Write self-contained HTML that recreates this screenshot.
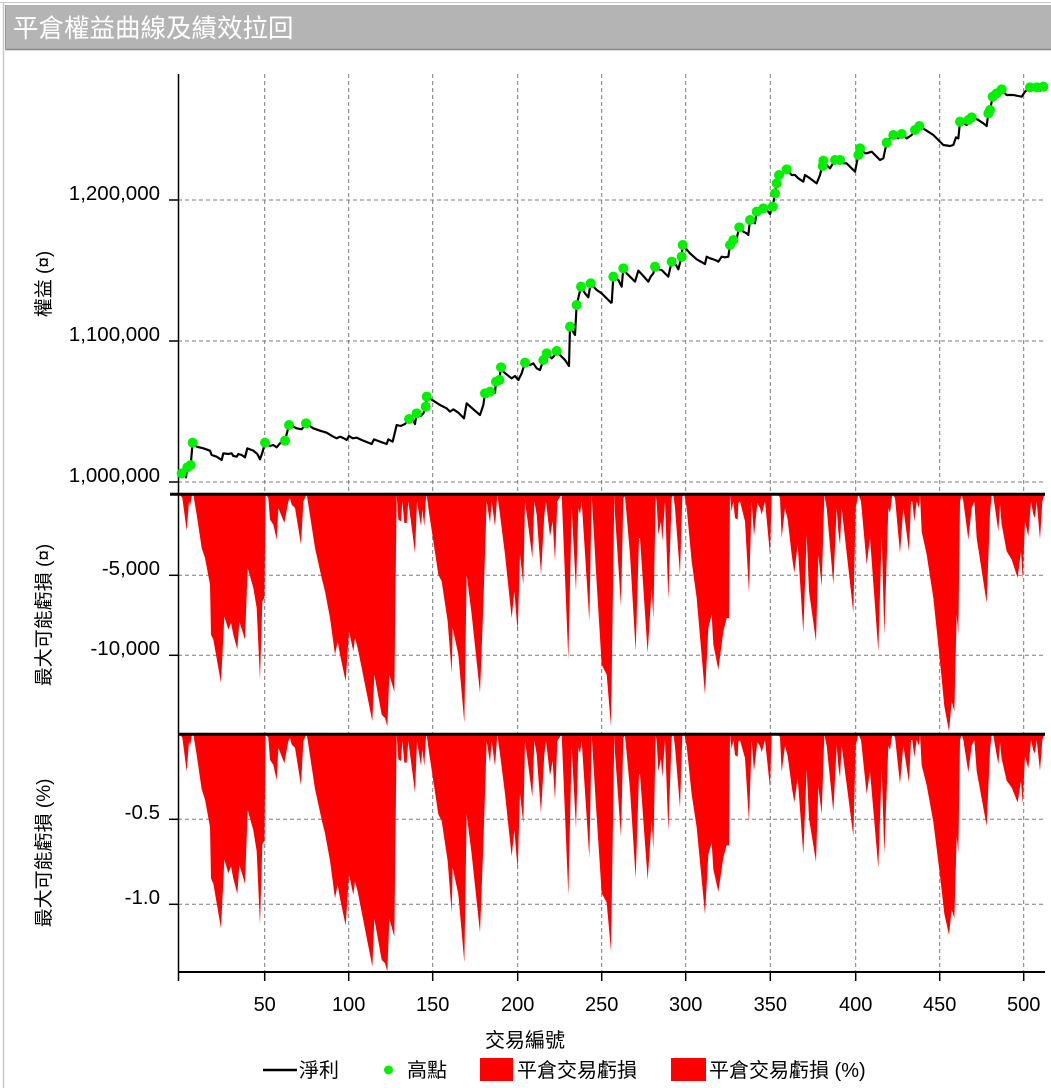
<!DOCTYPE html>
<html>
<head>
<meta charset="utf-8">
<style>
html,body{margin:0;padding:0;background:#fff;}
svg{display:block;}
text{font-family:"Liberation Sans","Noto Sans CJK TC",sans-serif;fill:#000;}
</style>
</head>
<body>
<svg width="1051" height="1088" viewBox="0 0 1051 1088" xmlns="http://www.w3.org/2000/svg">
<rect x="0" y="0" width="1051" height="1088" fill="#fff"/>
<!-- outer frame -->
<line x1="0" y1="2.5" x2="1051" y2="2.5" stroke="#c8c8c8" stroke-width="1"/>
<line x1="3.5" y1="2" x2="3.5" y2="1088" stroke="#c8c8c8" stroke-width="1.5"/>
<!-- title bar -->
<rect x="5" y="5" width="1046" height="44" fill="#b4b4b4"/>
<line x1="5" y1="49.5" x2="1051" y2="49.5" stroke="#8a8a8a" stroke-width="1.5"/>
<line x1="5.5" y1="5" x2="5.5" y2="50" stroke="#999" stroke-width="1"/>
<text x="13" y="37" style="font-size:25.5px;fill:#fff;">平倉權益曲線及績效拉回</text>

<!-- grid -->
<g stroke="#7a7a7a" stroke-width="1" stroke-dasharray="4,3" fill="none">
  <line x1="178" y1="200" x2="1045" y2="200"/>
  <line x1="178" y1="341" x2="1045" y2="341"/>
  <line x1="178" y1="482" x2="1045" y2="482"/>
  <line x1="178" y1="575.3" x2="1045" y2="575.3"/>
  <line x1="178" y1="655.3" x2="1045" y2="655.3"/>
  <line x1="178" y1="819.3" x2="1045" y2="819.3"/>
  <line x1="178" y1="904.3" x2="1045" y2="904.3"/>
  <line x1="264.7" y1="74" x2="264.7" y2="972"/>
  <line x1="348.7" y1="74" x2="348.7" y2="972"/>
  <line x1="432.7" y1="74" x2="432.7" y2="972"/>
  <line x1="517.7" y1="74" x2="517.7" y2="972"/>
  <line x1="601.7" y1="74" x2="601.7" y2="972"/>
  <line x1="685.7" y1="74" x2="685.7" y2="972"/>
  <line x1="770.3" y1="74" x2="770.3" y2="972"/>
  <line x1="855.7" y1="74" x2="855.7" y2="972"/>
  <line x1="939.7" y1="74" x2="939.7" y2="972"/>
  <line x1="1023.7" y1="74" x2="1023.7" y2="972"/>
</g>

<!-- Panel 2 drawdown (value) -->
<g fill="#ff0000" stroke="none" transform="translate(175,488) scale(0.333333)">
<polygon points="15,20 22,30 35,128 42,40 45,55 50,25 55,20 65,80 80,180 90,210 105,290 108,440 115,455 138,585 148,385 160,425 168,405 175,440 187,485 193,400 210,455 218,240 235,300 245,360 255,575 262,340 268,330 272,20"/>
<polygon points="272,20 280,30 285,95 295,110 305,155 310,60 328,105 340,40 345,30 350,50 360,60 378,170 385,40 392,25 395,20"/>
<polygon points="395,20 400,50 420,180 440,270 450,310 465,390 480,500 488,460 495,500 512,580 522,430 535,490 540,450 548,480 592,700 598,560 620,680 630,690 637,715 643,560 658,612 665,20"/>
<polygon points="665,20 670,95 678,100 682,40 688,105 695,105 700,40 720,195 726,40 738,115 742,65 748,115 752,40 755,20"/>
<polygon points="755,20 760,60 790,260 800,280 818,400 830,555 833,420 850,500 868,705 875,260 890,380 915,615 925,350 935,40 945,105 950,40 960,115 967,20"/>
<polygon points="967,20 975,80 990,200 1010,390 1018,310 1028,430 1035,200 1045,290 1050,40 1058,100 1072,210 1078,40 1085,80 1098,260 1108,80 1113,40 1125,145 1133,100 1140,220 1147,40 1160,20"/>
<polygon points="1160,20 1180,515 1190,60 1203,310 1210,60 1215,80 1220,40 1243,400 1250,20"/>
</g>
<g fill="#ff0000" stroke="none" transform="translate(605,488) scale(0.333333)">
<polygon points="-40,20 -28,235 -10,530 5,560 18,715 28,20"/>
<polygon points="28,20 30,80 48,355 55,30 60,25 75,200 92,490 102,150 105,150 128,495 140,300 145,395 152,25 155,40 160,140 168,100 172,160 180,40 190,335 200,30 205,20 210,60 225,260 232,25 238,20"/>
<polygon points="238,20 245,60 260,220 275,330 300,620 310,420 320,380 325,470 340,545 355,430 365,390 372,390 375,20"/>
<polygon points="375,20 380,70 385,40 390,90 398,95 400,45 405,40 420,100 432,315 440,40 447,145 457,45 465,60 470,80 480,40 495,200 500,20"/>
<polygon points="520,20 525,30 530,150 540,60 548,95 560,200 568,255 578,170 595,435 605,140 612,310 633,460 640,200 650,295 658,20"/>
<polygon points="658,20 665,60 685,290 695,60 700,130 705,170 710,60 720,150 745,375 752,60 760,20"/>
<polygon points="760,20 768,40 785,230 795,150 820,490 830,140 838,440 850,60 855,75 862,20"/>
<polygon points="862,20 870,30 885,195 895,60 912,190 918,40 922,40 928,100 935,40 942,60 945,20"/>
<polygon points="945,20 950,130 965,200 985,330 1005,520 1018,655 1032,730 1040,640 1048,670 1055,380 1060,440 1065,40 1070,20"/>
<polygon points="1070,20 1075,40 1090,155 1100,60 1108,40 1115,150 1145,345 1155,75 1160,20"/>
<polygon points="1160,20 1165,25 1180,130 1185,50 1190,110 1205,190 1220,215 1238,270 1248,190 1253,275 1260,100 1270,145 1278,40 1285,80 1290,90 1295,40 1305,155 1312,40 1318,20"/>
</g>

<!-- Panel 3 drawdown (%) -->
<g fill="#ff0000" stroke="none" transform="translate(175,725) scale(0.333333)">
<polygon transform="matrix(1,0,0,1.03,0,7.4)" points="15,20 22,30 35,128 42,40 45,55 50,25 55,20 65,80 80,180 90,210 105,290 108,440 115,455 138,585 148,385 160,425 168,405 175,440 187,485 193,400 210,455 218,240 235,300 245,360 255,575 262,340 268,330 272,20"/>
<polygon transform="matrix(1,0,0,1.02,0,7.6)" points="272,20 280,30 285,95 295,110 305,155 310,60 328,105 340,40 345,30 350,50 360,60 378,170 385,40 392,25 395,20"/>
<polygon transform="matrix(1,0,0,1.025,0,7.5)" points="395,20 400,50 420,180 440,270 450,310 465,390 480,500 488,460 495,500 512,580 522,430 535,490 540,450 548,480 592,700 598,560 620,680 630,690 637,715 643,560 658,612 665,20"/>
<polygon transform="matrix(1,0,0,1.0,0,8)" points="665,20 670,95 678,100 682,40 688,105 695,105 700,40 720,195 726,40 738,115 742,65 748,115 752,40 755,20"/>
<polygon transform="matrix(1,0,0,1.0,0,8)" points="755,20 760,60 790,260 800,280 818,400 830,555 833,420 850,500 868,705 875,260 890,380 915,615 925,350 935,40 945,105 950,40 960,115 967,20"/>
<polygon transform="matrix(1,0,0,0.99,0,8.2)" points="967,20 975,80 990,200 1010,390 1018,310 1028,430 1035,200 1045,290 1050,40 1058,100 1072,210 1078,40 1085,80 1098,260 1108,80 1113,40 1125,145 1133,100 1140,220 1147,40 1160,20"/>
<polygon transform="matrix(1,0,0,0.975,0,8.5)" points="1160,20 1180,515 1190,60 1203,310 1210,60 1215,80 1220,40 1243,400 1250,20"/>
</g>
<g fill="#ff0000" stroke="none" transform="translate(605,725) scale(0.333333)">
<polygon transform="matrix(1,0,0,0.934,0,9.32)" points="-40,20 -28,235 -10,530 5,560 18,715 28,20"/>
<polygon transform="matrix(1,0,0,0.92,0,9.6)" points="28,20 30,80 48,355 55,30 60,25 75,200 92,490 102,150 105,150 128,495 140,300 145,395 152,25 155,40 160,140 168,100 172,160 180,40 190,335 200,30 205,20 210,60 225,260 232,25 238,20"/>
<polygon transform="matrix(1,0,0,0.90,0,10)" points="238,20 245,60 260,220 275,330 300,620 310,420 320,380 325,470 340,545 355,430 365,390 372,390 375,20"/>
<polygon transform="matrix(1,0,0,0.89,0,10.2)" points="375,20 380,70 385,40 390,90 398,95 400,45 405,40 420,100 432,315 440,40 447,145 457,45 465,60 470,80 480,40 495,200 500,20"/>
<polygon transform="matrix(1,0,0,0.87,0,10.6)" points="520,20 525,30 530,150 540,60 548,95 560,200 568,255 578,170 595,435 605,140 612,310 633,460 640,200 650,295 658,20"/>
<polygon transform="matrix(1,0,0,0.86,0,10.8)" points="658,20 665,60 685,290 695,60 700,130 705,170 710,60 720,150 745,375 752,60 760,20"/>
<polygon transform="matrix(1,0,0,0.855,0,10.9)" points="760,20 768,40 785,230 795,150 820,490 830,140 838,440 850,60 855,75 862,20"/>
<polygon transform="matrix(1,0,0,0.85,0,11)" points="862,20 870,30 885,195 895,60 912,190 918,40 922,40 928,100 935,40 942,60 945,20"/>
<polygon transform="matrix(1,0,0,0.848,0,11.04)" points="945,20 950,130 965,200 985,330 1005,520 1018,655 1032,730 1040,640 1048,670 1055,380 1060,440 1065,40 1070,20"/>
<polygon transform="matrix(1,0,0,0.846,0,11.08)" points="1070,20 1075,40 1090,155 1100,60 1108,40 1115,150 1145,345 1155,75 1160,20"/>
<polygon transform="matrix(1,0,0,0.82,0,11.6)" points="1160,20 1165,25 1180,130 1185,50 1190,110 1205,190 1220,215 1238,270 1248,190 1253,275 1260,100 1270,145 1278,40 1285,80 1290,90 1295,40 1305,155 1312,40 1318,20"/>
</g>

<!-- axes & separators -->
<g stroke="#000" fill="none">
  <line x1="178.5" y1="74" x2="178.5" y2="981" stroke-width="1.5"/>
  <line x1="170" y1="494.3" x2="1045" y2="494.3" stroke-width="3"/>
  <line x1="178" y1="734.3" x2="1045" y2="734.3" stroke-width="3"/>
  <line x1="178" y1="972" x2="1045" y2="972" stroke-width="2"/>
  <line x1="169" y1="200" x2="178" y2="200" stroke-width="1.5"/>
  <line x1="169" y1="341" x2="178" y2="341" stroke-width="1.5"/>
  <line x1="169" y1="482" x2="178" y2="482" stroke-width="1.5"/>
  <line x1="169" y1="575.3" x2="178" y2="575.3" stroke-width="1.5"/>
  <line x1="169" y1="655.3" x2="178" y2="655.3" stroke-width="1.5"/>
  <line x1="169" y1="819.3" x2="178" y2="819.3" stroke-width="1.5"/>
  <line x1="169" y1="904.3" x2="178" y2="904.3" stroke-width="1.5"/>
  <line x1="264.7" y1="972" x2="264.7" y2="981" stroke-width="1.5"/>
  <line x1="348.7" y1="972" x2="348.7" y2="981" stroke-width="1.5"/>
  <line x1="432.7" y1="972" x2="432.7" y2="981" stroke-width="1.5"/>
  <line x1="517.7" y1="972" x2="517.7" y2="981" stroke-width="1.5"/>
  <line x1="601.7" y1="972" x2="601.7" y2="981" stroke-width="1.5"/>
  <line x1="685.7" y1="972" x2="685.7" y2="981" stroke-width="1.5"/>
  <line x1="770.3" y1="972" x2="770.3" y2="981" stroke-width="1.5"/>
  <line x1="855.7" y1="972" x2="855.7" y2="981" stroke-width="1.5"/>
  <line x1="939.7" y1="972" x2="939.7" y2="981" stroke-width="1.5"/>
  <line x1="1023.7" y1="972" x2="1023.7" y2="981" stroke-width="1.5"/>
</g>

<!-- equity line -->
<g transform="translate(170,60) scale(0.333333)">
<polyline fill="none" stroke="#000" stroke-width="6.5" stroke-linejoin="round" points="35,1240 42,1235 48,1252 52,1222 62,1215 68,1148 80,1160 100,1165 120,1172 125,1185 140,1190 155,1200 160,1180 175,1182 185,1180 190,1188 200,1190 205,1182 215,1185 225,1192 232,1165 250,1172 262,1182 270,1198 278,1175 285,1148 300,1158 310,1155 320,1162 330,1150 345,1142 357,1095 370,1100 380,1105 395,1108 408,1090 420,1098 430,1105 450,1112 470,1118 490,1130 500,1135 510,1130 520,1134 530,1140 537,1128 548,1135 560,1133 575,1140 590,1146 605,1152 612,1138 630,1145 650,1152 655,1138 668,1145 680,1095 692,1098 705,1092 717,1077 730,1082 735,1092 740,1060 752,1068 760,1060 767,1040 770,1010 790,1022 810,1035 830,1045 840,1055 850,1048 865,1058 882,1075 890,1030 910,1048 930,1065 940,1035 945,1000 960,995 975,998 978,965 988,960 993,922 1000,935 1012,945 1025,955 1035,948 1045,960 1055,940 1065,908 1080,915 1090,910 1100,925 1110,930 1120,900 1130,880 1145,895 1152,888 1160,873 1170,885 1185,900 1197,918 1200,800 1215,825 1220,735 1233,680 1245,700 1255,712 1262,670 1280,690 1295,700 1310,715 1325,730"/>
<g fill="#00f000">
<circle cx="35" cy="1240" r="15"/><circle cx="52" cy="1222" r="15"/><circle cx="62" cy="1215" r="15"/><circle cx="68" cy="1148" r="15"/><circle cx="285" cy="1148" r="15"/><circle cx="345" cy="1142" r="15"/><circle cx="357" cy="1095" r="15"/><circle cx="408" cy="1090" r="15"/><circle cx="717" cy="1077" r="15"/><circle cx="740" cy="1060" r="15"/><circle cx="767" cy="1040" r="15"/><circle cx="770" cy="1010" r="15"/><circle cx="945" cy="1000" r="15"/><circle cx="960" cy="995" r="15"/><circle cx="978" cy="965" r="15"/><circle cx="988" cy="960" r="15"/><circle cx="993" cy="922" r="15"/><circle cx="1065" cy="908" r="15"/><circle cx="1120" cy="900" r="15"/><circle cx="1130" cy="880" r="15"/><circle cx="1160" cy="873" r="15"/><circle cx="1200" cy="800" r="15"/><circle cx="1220" cy="735" r="15"/><circle cx="1233" cy="680" r="15"/><circle cx="1262" cy="670" r="15"/>
</g>
</g>
<g transform="translate(600,60) scale(0.333333)">
<polyline fill="none" stroke="#000" stroke-width="6.5" stroke-linejoin="round" points="35,730 40,650 55,660 65,680 70,625 80,640 90,650 105,665 115,632 130,648 145,665 152,650 160,640 165,620 175,628 185,630 195,640 205,650 215,605 228,615 235,628 245,590 248,555 270,580 290,598 315,612 320,590 330,595 340,598 350,602 355,605 365,590 375,592 385,590 390,555 400,540 410,535 418,502 430,515 440,520 445,525 450,480 465,490 470,455 480,450 490,445 505,455 510,462 518,440 525,400 530,370 537,345 548,340 560,328 575,345 585,345 595,355 610,365 615,345 630,355 650,370 660,345 670,302 680,315 690,325 705,300 720,300 730,310 740,310 755,325 765,335 775,285 780,265 795,280 800,280 815,275 825,285 840,300 850,295 860,248 870,235 880,225 895,235 905,222 915,230 920,235 928,230 935,225 945,210 958,198 980,212 1000,225 1030,255 1050,258 1060,255 1068,232 1075,235 1080,185 1090,190 1100,195 1115,172 1125,175 1135,180 1150,190 1160,198 1165,160 1170,150 1178,110 1190,100 1205,88 1215,100 1220,105 1240,105 1255,108 1265,110 1275,95 1290,82 1310,82 1320,92 1330,80"/>
<g fill="#00f000">
<circle cx="40" cy="650" r="15"/><circle cx="70" cy="625" r="15"/><circle cx="165" cy="620" r="15"/><circle cx="215" cy="605" r="15"/><circle cx="245" cy="590" r="15"/><circle cx="248" cy="555" r="15"/><circle cx="390" cy="555" r="15"/><circle cx="400" cy="540" r="15"/><circle cx="418" cy="502" r="15"/><circle cx="450" cy="480" r="15"/><circle cx="470" cy="455" r="15"/><circle cx="490" cy="445" r="15"/><circle cx="518" cy="440" r="15"/><circle cx="525" cy="400" r="15"/><circle cx="530" cy="370" r="15"/><circle cx="537" cy="345" r="15"/><circle cx="560" cy="328" r="15"/><circle cx="668" cy="318" r="15"/><circle cx="670" cy="302" r="15"/><circle cx="705" cy="300" r="15"/><circle cx="720" cy="300" r="15"/><circle cx="775" cy="285" r="15"/><circle cx="780" cy="265" r="15"/><circle cx="860" cy="248" r="15"/><circle cx="880" cy="225" r="15"/><circle cx="905" cy="222" r="15"/><circle cx="945" cy="210" r="15"/><circle cx="958" cy="198" r="15"/><circle cx="1080" cy="185" r="15"/><circle cx="1105" cy="180" r="15"/><circle cx="1115" cy="172" r="15"/><circle cx="1165" cy="160" r="15"/><circle cx="1170" cy="150" r="15"/><circle cx="1178" cy="110" r="15"/><circle cx="1190" cy="100" r="15"/><circle cx="1205" cy="88" r="15"/><circle cx="1290" cy="82" r="15"/><circle cx="1310" cy="82" r="15"/><circle cx="1330" cy="80" r="15"/>
</g>
</g>

<!-- y tick labels -->
<g style="font-size:20.5px;" text-anchor="end">
  <text x="160" y="200">1,200,000</text>
  <text x="160" y="341">1,100,000</text>
  <text x="160" y="482">1,000,000</text>
  <text x="160" y="575">-5,000</text>
  <text x="160" y="655">-10,000</text>
  <text x="160" y="819">-0.5</text>
  <text x="160" y="904">-1.0</text>
</g>
<!-- y axis titles -->
<g style="font-size:19px;" text-anchor="middle">
  <text transform="translate(50,284) rotate(-90)">權益 (¤)</text>
  <text transform="translate(50,615) rotate(-90)">最大可能虧損 (¤)</text>
  <text transform="translate(50,853) rotate(-90)">最大可能虧損 (%)</text>
</g>
<!-- x tick labels -->
<g style="font-size:20px;" text-anchor="middle">
  <text x="264.7" y="1011">50</text>
  <text x="348.7" y="1011">100</text>
  <text x="432.7" y="1011">150</text>
  <text x="517.7" y="1011">200</text>
  <text x="601.7" y="1011">250</text>
  <text x="685.7" y="1011">300</text>
  <text x="770.3" y="1011">350</text>
  <text x="855.7" y="1011">400</text>
  <text x="939.7" y="1011">450</text>
  <text x="1023.7" y="1011">500</text>
</g>
<text x="525" y="1047" text-anchor="middle" style="font-size:20px;">交易編號</text>

<!-- legend -->
<line x1="263" y1="1070" x2="297" y2="1070" stroke="#000" stroke-width="2.5"/>
<text x="299" y="1077" style="font-size:20px;">淨利</text>
<circle cx="388.5" cy="1070" r="4.5" fill="#00f000"/>
<text x="407" y="1077" style="font-size:20px;">高點</text>
<rect x="480" y="1058" width="33" height="23" fill="#ff0000"/>
<text x="517" y="1077" style="font-size:20px;">平倉交易虧損</text>
<rect x="671" y="1058" width="35" height="23" fill="#ff0000"/>
<text x="709" y="1077" style="font-size:20px;">平倉交易虧損 (%)</text>
</svg>
</body>
</html>
